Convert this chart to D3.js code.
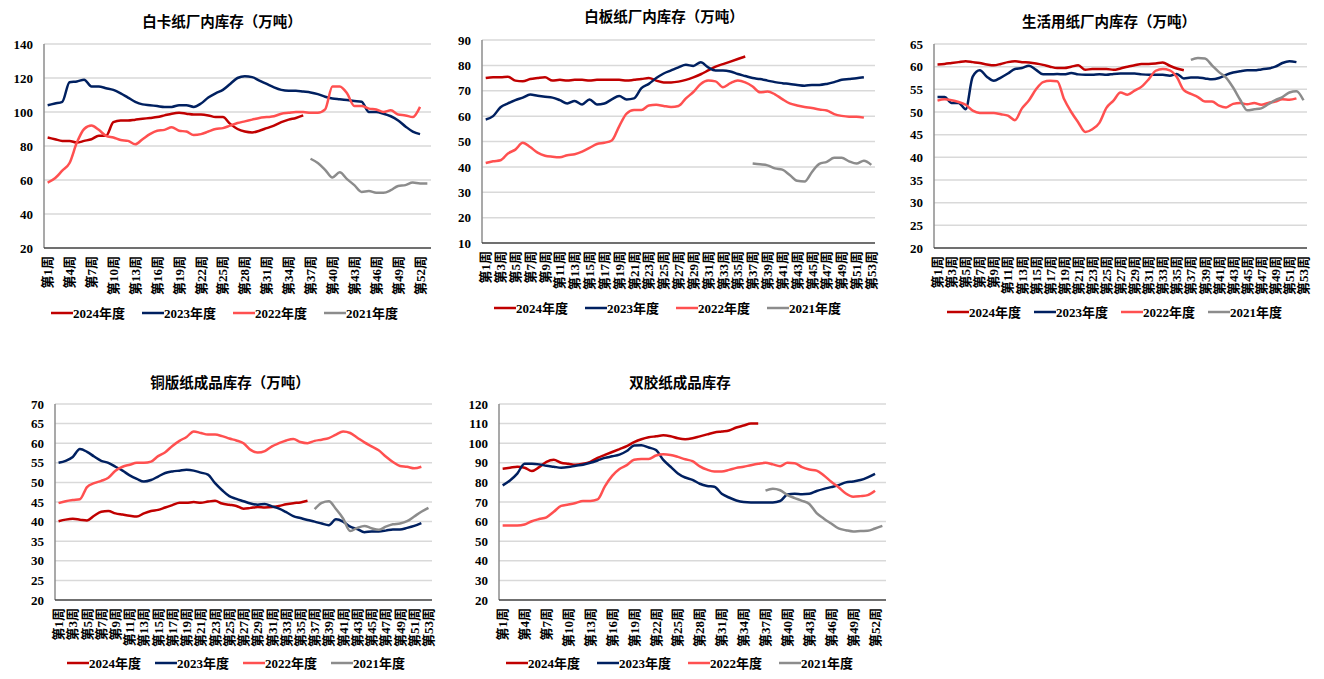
<!DOCTYPE html>
<html>
<head>
<meta charset="utf-8">
<script src="https://cdn.jsdelivr.net/npm/d3@7"></script>
<style>
body { margin: 0; background: #fff; }
svg { display: block; }
text { font-family: 'Liberation Serif', 'Times New Roman', 'Noto Sans CJK SC', serif; font-weight: bold; fill: #000; }
.title { font-family: 'Noto Sans CJK SC', sans-serif; }
</style>
</head>
<body>
<svg></svg>
<script>
const weeks = d3.range(1, 54);
const years = ['2024年度', '2023年度', '2022年度', '2021年度'];
const colors = ['#C00000', '#002060', '#FF5050', '#8C8C8C'];
const starts = [1, 1, 1, 37];

// 白卡纸
const baika2024 = [85,84,83,83,82,83,84,86,86,94,95,95,95.5,96,96.5,97,98,99,99.5,99,98.5,98.5,98,97,97,93,90,88.5,88,89,90.5,92,94,95.5,96.5,98];
const baika2023 = [104,105,106,117.5,118,119,115,115,114,113,111,108.5,106,104.5,104,103.5,103,103,104,104,103,105,108.5,111,113,116.5,120,121,120.5,118.5,116.5,114.5,113,112.5,112.5,112,111.5,110.5,109,108,107.5,107,106.5,106,100,100,99,97.5,95,91.5,88.5,87];
const baika2022 = [58.5,61,65.5,70,82,90,92,89.5,86,85,83.5,83,81,84,87,89,89.5,91,89,88.5,86.5,87,88.5,90,90.5,92,93.5,94.5,95.5,96.5,97,97.5,99,99.5,100,100,99.5,99.5,101.5,115,115,111,103.5,103.5,102,101.5,100,101,98.5,98,97,103];
const baika2021 = [72.5,70,66,61.5,64.5,60.5,57,53,53.5,52.5,52.5,54,56.5,57,58.5,58,58];

// 白板纸
const baiban2024 = [75,75.3,75.3,75.5,74,73.7,74.6,75,75.3,74,74.3,74,74.3,74.3,74,74.3,74.3,74.3,74.3,74,74.3,74.6,75,74,73.3,73.3,73.6,74.3,75.3,76.5,78,79.5,80.5,81.5,82.5,83.5];
const baiban2023 = [58.7,60,63.5,65,66.3,67.3,68.5,68,67.6,67.3,66.3,65,66,64.6,66.6,64.6,65,66.6,67.9,66.6,67,71,72.7,75,76.8,78,79.2,80.2,79.8,81.2,79.2,78,78,77.6,76.6,75.8,75,74.6,74,73.4,73,72.7,72.3,72,72.3,72.3,72.7,73.4,74.3,74.6,74.9,75.3];
const baiban2022 = [41.5,42.2,42.6,45.3,46.8,49.5,47.8,45.6,44.4,44,43.8,44.6,45,46,47.5,49,49.5,50.4,56,61,62.4,62.4,64.2,64.5,64,63.6,64,67,69.5,72.7,74,73.7,71.4,73,74,73.3,71.7,69.4,69.7,68.6,66.7,65,64.2,63.6,63.2,62.6,62.2,60.8,60.1,59.8,59.8,59.4];
const baiban2021 = [41.3,41,40.6,39.4,38.9,36.8,34.5,34.2,38,41.2,42,43.6,43.6,42.2,41.3,42.4,40.8];

// 生活用纸
const shenghuo2024 = [60.5,60.6,60.8,61,61.2,61,60.8,60.5,60.3,60.6,61,61.2,61,60.9,60.7,60.4,60,59.7,59.7,60,60.3,59.3,59.5,59.5,59.5,59.3,59.6,60,60.3,60.6,60.6,60.7,60.9,60.2,59.6,59.2];
const shenghuo2023 = [53.3,53.3,52,52,50.6,57.8,59.2,57.8,56.9,57.6,58.5,59.5,59.7,60.2,59.3,58.3,58.3,58.4,58.3,58.6,58.3,58.2,58.2,58.3,58.2,58.4,58.5,58.5,58.5,58.3,58.2,58.2,58.2,58,58.4,57.4,57.6,57.6,57.4,57.2,57.5,58.2,58.7,59,59.2,59.2,59.4,59.6,60,60.8,61.2,61];
const shenghuo2022 = [52.5,52.8,52.6,52.2,51.6,50.3,49.8,49.8,49.8,49.5,49.2,48.2,50.8,52.6,55,56.6,56.9,56.8,52.8,50,47.7,45.6,46.2,47.6,50.9,52.5,54.3,53.8,54.7,55.6,57.2,59.1,59.5,59.2,57.7,54.8,54,53.3,52.3,52.3,51.4,51,51.8,52,51.7,52,51.6,52,52.3,52.8,52.7,53];
const shenghuo2021 = [61.5,61.9,61.8,60.3,58.8,57.6,55.4,52.7,50.4,50.6,50.8,51.7,52.6,53.3,54.3,54.6,52.6];

// 铜版纸
const tongban2024 = [40.1,40.5,40.7,40.5,40.3,41.5,42.5,42.7,42.1,41.8,41.5,41.3,42.1,42.7,43,43.6,44.2,44.8,44.8,45,44.8,45.1,45.3,44.6,44.3,44,43.3,43.5,43.7,43.6,43.7,44,44.4,44.7,44.9,45.3];
const tongban2023 = [55,55.5,56.5,58.5,57.8,56.6,55.5,55,54,53,51.8,50.9,50.2,50.6,51.5,52.4,52.8,53,53.2,53,52.5,52,49.8,48,46.5,45.8,45.2,44.6,44.3,44.5,43.9,43.3,42.4,41.4,40.9,40.4,40,39.5,39.1,40.6,40,38.7,38.1,37.3,37.5,37.5,37.7,38,38,38.4,38.9,39.6];
const tongban2022 = [44.7,45.2,45.5,45.7,48.8,49.8,50.4,51.2,53,54,54.5,55,55,55.3,56.7,57.7,59.3,60.6,61.6,63,62.6,62.2,62.2,61.8,61.2,60.7,60,58.3,57.6,58,59.2,60,60.7,61.1,60.3,60,60.6,60.9,61.3,62.2,63,62.6,61.4,60.2,59.2,58.2,56.6,55.2,54.2,54,53.6,54];
const tongban2021 = [43.2,44.8,45.2,43.2,40.8,37.6,38.4,38.9,38.3,37.9,38.7,39.3,39.5,40.1,41.3,42.5,43.5];

// 双胶纸
const shuangjiao2024 = [87,87.5,88,87.5,85.8,87.8,90.5,91.5,90,89.5,89,89.5,90.5,92.5,94,95.5,97,98.5,100.5,102,103,103.5,104,103.5,102.5,102,102.5,103.5,104.5,105.5,106,106.5,108,109,110,110];
const shuangjiao2023 = [78.5,81,84.5,89.5,89.5,89.2,88.5,88,87.5,87.8,88.5,89,90,91.2,92.5,93.3,94.2,96,98.8,99,97.8,96.5,91.5,88,84.6,82.5,81.3,79.3,78.2,77.8,74.2,72.3,70.8,70,69.8,69.8,69.8,69.8,70.5,73.8,74.2,74,74.2,75.6,76.7,77.6,78.6,80,80.5,81.2,82.6,84.4];
const shuangjiao2022 = [58,58,58,58.5,60.2,61.3,62.2,65,68,68.7,69.5,70.5,70.5,71.3,78,83.3,86.8,88.8,91.6,92,92,93.7,94.4,94,93,91.8,90.8,88.2,86.5,85.6,85.6,86.4,87.4,88,88.8,89.5,90,89.2,88.3,90,89.8,87.8,86.6,86,83.5,80.3,77.5,74.3,72.7,73,73.5,75.7];
const shuangjiao2021 = [75.8,76.8,76,73.5,72,70.6,69,64.3,61.5,59,56.5,55.6,55,55.2,55.3,56.5,57.8];

const size = {w: 1324, h: 679};
const svg = d3.select('svg')
    .attr('width', size.w)
    .attr('height', size.h);

const charts = [
    {title: '白卡纸厂内库存（万吨）', series: [baika2024, baika2023, baika2022, baika2021],
     yDomain: [20, 140], yStep: 20, every: 3,
     box: {l: 44, r: 431, t: 44, b: 248}, titlePos: [222, 20], legend: {x: 51, y: 313, gap: 91}},
    {title: '白板纸厂内库存（万吨）', series: [baiban2024, baiban2023, baiban2022, baiban2021],
     yDomain: [10, 90], yStep: 10, every: 2,
     box: {l: 482, r: 875, t: 40, b: 243}, titlePos: [664, 15], legend: {x: 494, y: 308, gap: 91}},
    {title: '生活用纸厂内库存（万吨）', series: [shenghuo2024, shenghuo2023, shenghuo2022, shenghuo2021],
     yDomain: [20, 65], yStep: 5, every: 2,
     box: {l: 934, r: 1307, t: 44, b: 248}, titlePos: [1109, 20], legend: {x: 947, y: 312, gap: 87}},
    {title: '铜版纸成品库存（万吨）', series: [tongban2024, tongban2023, tongban2022, tongban2021],
     yDomain: [20, 70], yStep: 5, every: 2,
     box: {l: 55, r: 432, t: 404, b: 600}, titlePos: [230, 381], legend: {x: 67, y: 663, gap: 88}},
    {title: '双胶纸成品库存', series: [shuangjiao2024, shuangjiao2023, shuangjiao2022, shuangjiao2021],
     yDomain: [20, 120], yStep: 10, every: 3,
     box: {l: 499, r: 886, t: 404, b: 600}, titlePos: [680, 381], legend: {x: 506, y: 663, gap: 91}}
];

charts.forEach(drawChart);

function drawChart (c) {
    let g = svg.append('g').classed('chart', true);

    let x = d3.scaleBand()
        .domain(weeks)
        .range([c.box.l, c.box.r]);
    let y = d3.scaleLinear()
        .domain(c.yDomain)
        .range([c.box.b, c.box.t]);
    let bw = x.bandwidth();
    let yTicks = d3.range(c.yDomain[0], c.yDomain[1] + 0.001, c.yStep);

    // gridlines
    g.selectAll('line.grid')
        .data(yTicks.slice(1))
        .enter()
        .append('line')
        .attr('x1', c.box.l).attr('x2', c.box.r)
        .attr('y1', d => y(d)).attr('y2', d => y(d))
        .attr('stroke', '#d9d9d9')
        .attr('stroke-width', 1.5);

    // y labels
    let yAxis = d3.axisLeft(y).tickValues(yTicks).tickSize(0).tickPadding(11);
    let ya = g.append('g')
        .attr('transform', 'translate(' + c.box.l + ',0)')
        .call(yAxis);
    ya.select('.domain').remove();
    ya.selectAll('text').style('font-size', '13px');

    // axis lines
    g.append('line')
        .attr('x1', c.box.l).attr('x2', c.box.l)
        .attr('y1', c.box.t).attr('y2', c.box.b)
        .attr('stroke', '#8c8c8c').attr('stroke-width', 1.5);
    g.append('line')
        .attr('x1', c.box.l).attr('x2', c.box.r)
        .attr('y1', c.box.b).attr('y2', c.box.b)
        .attr('stroke', '#404040').attr('stroke-width', 1.5);

    // x labels
    g.selectAll('text.xl')
        .data(weeks.filter(w => (w - 1) % c.every === 0))
        .enter()
        .append('text')
        .classed('xl', true)
        .attr('transform', w => 'translate(' + (x(w) + bw / 2) + ',' + (c.box.b + 8) + ') rotate(-90)')
        .attr('dy', '0.35em')
        .attr('text-anchor', 'end')
        .style('font-size', '13px')
        .text(w => '第' + w + '周');

    // lines
    c.series.forEach(function (vals, i) {
        let line = d3.line()
            .x((d, j) => x(starts[i] + j) + bw / 2)
            .y(d => y(d))
            .curve(d3.curveMonotoneX);
        g.append('path')
            .datum(vals)
            .attr('d', line)
            .attr('fill', 'none')
            .attr('stroke', colors[i])
            .attr('stroke-width', 2.5)
            .attr('stroke-linejoin', 'round');
    });

    // title
    g.append('text')
        .classed('title', true)
        .attr('x', c.titlePos[0]).attr('y', c.titlePos[1])
        .attr('text-anchor', 'middle')
        .attr('dominant-baseline', 'central')
        .style('font-size', '14.5px')
        .text(c.title);

    // legend
    let lg = g.selectAll('g.legend')
        .data(years)
        .enter()
        .append('g')
        .attr('transform', (d, i) => 'translate(' + (c.legend.x + i * c.legend.gap) + ',' + c.legend.y + ')');
    lg.append('line')
        .attr('x1', 0).attr('x2', 22)
        .attr('stroke', (d, i) => colors[i])
        .attr('stroke-width', 2.5);
    lg.append('text')
        .attr('x', 22)
        .attr('dominant-baseline', 'central')
        .style('font-size', '13px')
        .text(d => d);
}
</script>
</body>
</html>
